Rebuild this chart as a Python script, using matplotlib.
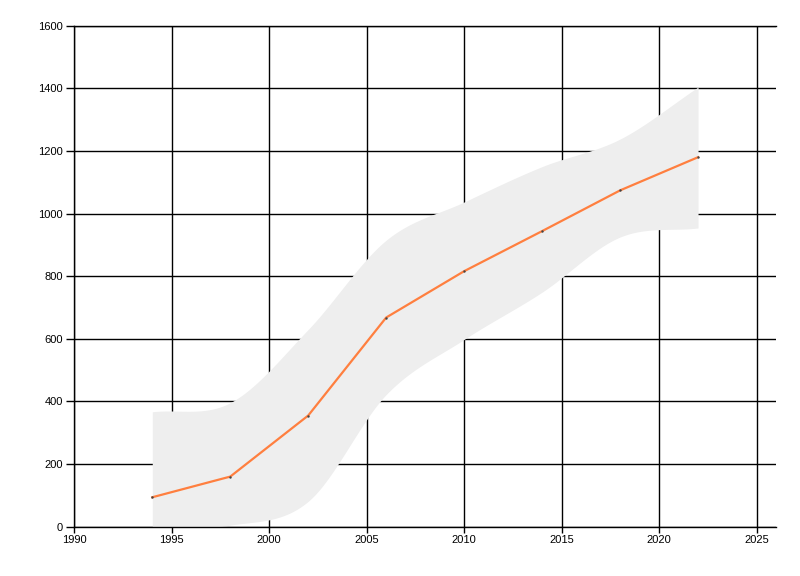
import numpy as np
import matplotlib
matplotlib.use("Agg")
import matplotlib.pyplot as plt

years = [1994, 1998, 2002, 2006, 2010, 2014, 2018, 2022]
values = [94, 160, 355, 668, 816, 944, 1074, 1180]
upper = [367, 396, 630, 915, 1037, 1150, 1238, 1404]
lower = [0, 5, 81, 422, 598, 749, 925, 954]
x_ticks = [1990, 1995, 2000, 2005, 2010, 2015, 2020, 2025]
y_ticks = [0, 200, 400, 600, 800, 1000, 1200, 1400, 1600]


def catmull_rom(xs, ys, n=40):
    xs = np.asarray(xs, float)
    ys = np.asarray(ys, float)
    m = np.zeros_like(ys)
    m[1:-1] = (ys[2:] - ys[:-2]) / (xs[2:] - xs[:-2])
    m[0] = (ys[1] - ys[0]) / (xs[1] - xs[0])
    m[-1] = (ys[-1] - ys[-2]) / (xs[-1] - xs[-2])
    ox, oy = [], []
    for i in range(len(xs) - 1):
        h = xs[i + 1] - xs[i]
        t = np.linspace(0, 1, n, endpoint=False)
        h00 = 2 * t**3 - 3 * t**2 + 1
        h10 = t**3 - 2 * t**2 + t
        h01 = -2 * t**3 + 3 * t**2
        h11 = t**3 - t**2
        ox.append(xs[i] + t * h)
        oy.append(h00 * ys[i] + h10 * h * m[i] + h01 * ys[i + 1] + h11 * h * m[i + 1])
    ox.append([xs[-1]])
    oy.append([ys[-1]])
    return np.concatenate(ox), np.concatenate(oy)


fig = plt.figure(figsize=(8, 5.76), dpi=100)
ax = fig.add_axes([74.3 / 800, (576 - 526.7) / 576, 701.7 / 800, 501 / 576])

ux, uy = catmull_rom(years, upper)
lx, ly = catmull_rom(years, lower)
ax.fill_between(ux, ly, uy, color="#eeeeee", linewidth=0, zorder=1)
ax.plot(years, values, color="#ff7f3f", linewidth=1.6, zorder=3)
ax.scatter(years, values, s=3, color="#444444", zorder=4, linewidths=0)

ax.set_xlim(1990, 2026)
ax.set_ylim(0, 1600)
ax.set_xticks(x_ticks)
ax.set_yticks(y_ticks)
ax.set_axisbelow(True)
ax.grid(True, color="black", linewidth=1.0)
for s in ["right"]:
    ax.spines[s].set_visible(False)
for s in ["left", "bottom", "top"]:
    ax.spines[s].set_linewidth(1.0)
    ax.spines[s].set_color("black")
ax.tick_params(axis="y", length=6, width=1.0, pad=2, labelsize=8)
ax.tick_params(axis="x", length=4.5, width=1.0, pad=1.5, labelsize=8)
for lab in ax.get_xticklabels() + ax.get_yticklabels():
    lab.set_fontfamily("Liberation Sans")

fig.savefig("out.png", dpi=100)
